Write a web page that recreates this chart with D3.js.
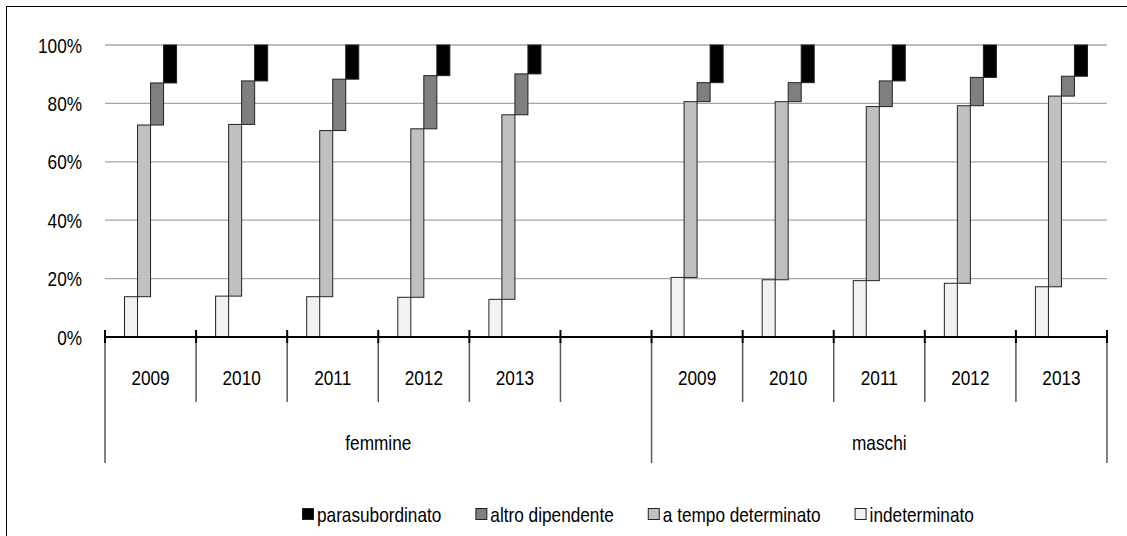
<!DOCTYPE html>
<meta charset="utf-8">
<style>
body { margin: 0; background: #fff; }
text { font-family: "Liberation Sans", Arial, sans-serif; font-size: 21px; fill: #000; }
.grid line { stroke: #a6a6a6; stroke-width: 1.3; }
.bar { stroke: #222; stroke-width: 1; }
</style>
<svg width="1127" height="536"></svg>
<script src="https://cdn.jsdelivr.net/npm/d3@7"></script>
<script>

// categories: year + group (one empty slot after femmine)
var years = ["2009", "2010", "2011", "2012", "2013", "", "2009", "2010", "2011", "2012", "2013"];
var groups = ["femmine", "maschi"];
var groupSize = [6, 5];

var series = ["indeterminato", "a tempo determinato", "altro dipendente", "parasubordinato"];
var colors = ["#f2f2f2", "#c0c0c0", "#7f7f7f", "#000000"];

// shares (%), per category
var indeterminato = [13.8, 14.0, 13.8, 13.6, 12.9, 0, 20.4, 19.6, 19.3, 18.4, 17.2];
var tempoDet      = [58.8, 58.8, 56.9, 57.7, 63.2, 0, 60.2, 61.0, 59.6, 60.8, 65.3];
var altroDip      = [14.4, 14.9, 17.6, 18.2, 14.0, 0,  6.5,  6.5,  8.8,  9.7,  6.8];
var parasub       = [13.0, 12.3, 11.7, 10.5,  9.9, 0, 12.9, 12.9, 12.3, 11.1, 10.7];

var yTicks = [0, 20, 40, 60, 80, 100];
var legendOrder = ["parasubordinato", "altro dipendente", "a tempo determinato", "indeterminato"];

var svg = d3.select("svg");
var pLeft = 105, pRight = 1107, pTop = 45, pBottom = 337;
var narrow = 0.82; // squeeze to look like Arial Narrow

function label(sel, x, y, anchor) {
  return sel.append("text")
    .attr("transform", "translate(" + x + "," + y + ") scale(" + narrow + ",1)")
    .attr("text-anchor", anchor || "middle");
}

var rows = years.map(function(y, i) {
  return {i: i, "indeterminato": indeterminato[i], "a tempo determinato": tempoDet[i],
          "altro dipendente": altroDip[i], "parasubordinato": parasub[i]};
});

var x = d3.scaleBand().domain(d3.range(years.length)).range([pLeft, pRight]).padding(0);
var xs = d3.scaleBand().domain(series).range([0, x.bandwidth()]).paddingInner(0).paddingOuter(1.5);
var y = d3.scaleLinear().domain([0, 100]).range([pBottom, pTop]);
var color = d3.scaleOrdinal().domain(series).range(colors);

// outer border
svg.append("rect").attr("x", 6.5).attr("y", 6.5).attr("width", 1140).attr("height", 560)
  .attr("fill", "none").attr("stroke", "#000").attr("stroke-width", 1);

// gridlines
svg.append("g").attr("class", "grid")
  .selectAll("line").data(yTicks.filter(function(d) { return d > 0; })).enter().append("line")
  .attr("x1", pLeft).attr("x2", pRight)
  .attr("y1", function(d) { return y(d); }).attr("y2", function(d) { return y(d); });

// y labels
var yl = svg.append("g");
yTicks.forEach(function(d) {
  label(yl, 82, y(d) + 7.5, "end").text(d + "%");
});

// stacked floating bars
var stacked = d3.stack().keys(series)(rows);
svg.append("g").selectAll("g").data(stacked).enter().append("g")
  .attr("fill", function(d) { return color(d.key); })
  .selectAll("rect").data(function(d) { return d.map(function(p) { return {key: d.key, p: p}; }); })
  .enter().filter(function(d) { return d.p[1] - d.p[0] > 0; }).append("rect")
  .attr("class", "bar")
  .attr("x", function(d) { return x(d.p.data.i) + xs(d.key); })
  .attr("width", xs.bandwidth())
  .attr("y", function(d) { return y(d.p[1]); })
  .attr("height", function(d) { return y(d.p[0]) - y(d.p[1]); });

// x axis line
svg.append("line").attr("x1", pLeft).attr("x2", pRight).attr("y1", pBottom).attr("y2", pBottom)
  .attr("stroke", "#000").attr("stroke-width", 2);

// category boundaries
var bounds = d3.range(years.length + 1);
var groupStarts = [0];
groupSize.reduce(function(a, n) { groupStarts.push(a + n); return a + n; }, 0);
var bx = function(k) { return k < years.length ? x(k) : pRight; };

svg.append("g").selectAll("line").data(bounds).enter().append("line")
  .attr("x1", bx).attr("x2", bx)
  .attr("y1", pBottom + 4).attr("y2", function(k) { return groupStarts.indexOf(k) >= 0 ? 463 : 402; })
  .attr("stroke", "#595959").attr("stroke-width", 1.5);
svg.append("g").selectAll("line").data(bounds).enter().append("line")
  .attr("x1", bx).attr("x2", bx).attr("y1", pBottom - 7).attr("y2", pBottom + 6)
  .attr("stroke", "#000").attr("stroke-width", 2);

// year labels
var xl = svg.append("g");
years.forEach(function(d, i) {
  label(xl, x(i) + x.bandwidth() / 2, 385).text(d);
});

// group labels
groups.forEach(function(d, i) {
  label(xl, (bx(groupStarts[i]) + bx(groupStarts[i + 1])) / 2, 450).text(d);
});

// legend
var legend = svg.append("g").attr("transform", "translate(0,515)");
var lx = 302;
legendOrder.forEach(function(name) {
  var g = legend.append("g").attr("transform", "translate(" + lx + ",0)");
  g.append("rect").attr("x", 0.5).attr("y", -6.5).attr("width", 11).attr("height", 11)
    .attr("fill", color(name)).attr("stroke", "#222").attr("stroke-width", 1);
  var t = label(g, 15, 7, "start").text(name);
  lx += 15 + t.node().getComputedTextLength() * narrow + 34;
});

</script>
